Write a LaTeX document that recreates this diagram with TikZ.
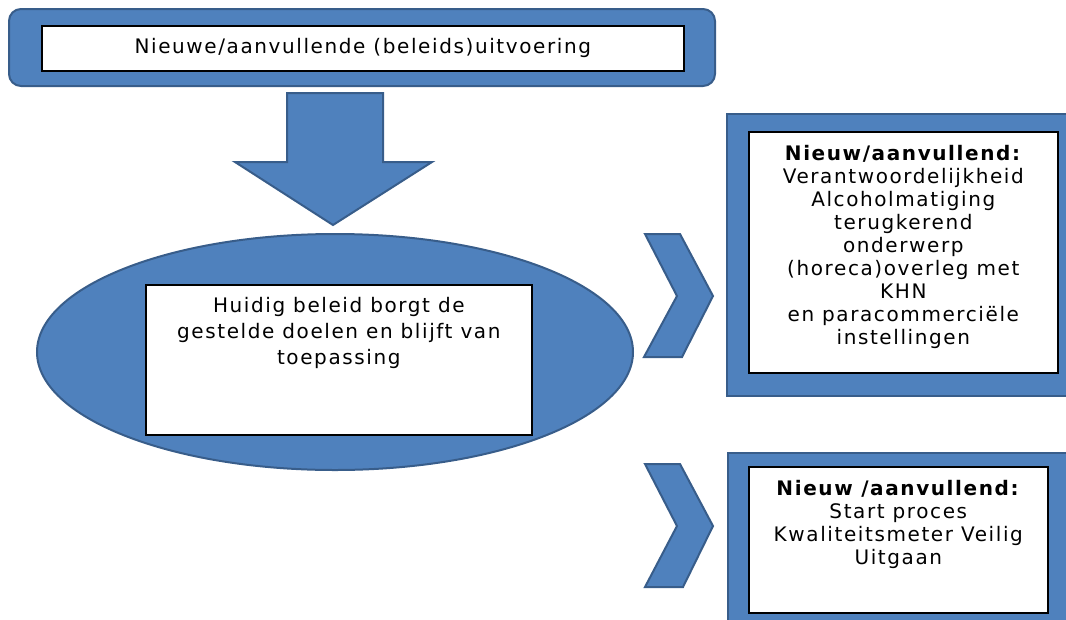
\documentclass[tikz,border=0pt]{standalone}
\usepackage{fontspec}
\setmainfont{DejaVu Sans}[LetterSpace=8]
\usepackage{tikz}
\usetikzlibrary{positioning,shapes.geometric}
\definecolor{shapeblue}{RGB}{79,129,189}
\definecolor{edgeblue}{RGB}{56,93,138}

\begin{document}
\begin{tikzpicture}[
x=1pt,y=-1pt,
font=\fontsize{20}{23}\selectfont,
blueshape/.style={fill=shapeblue,draw=edgeblue,line width=2pt,inner sep=0pt},
whitebox/.style={fill=white,draw=black,line width=1.6pt,inner sep=0pt,anchor=north west},
boxtext/.style={align=center,inner sep=0pt}]
    % Page
    \useasboundingbox (0,0) rectangle (1066,619);
    \clip (0,0) rectangle (1066,619);
    \fill[white] (0,0) rectangle (1066,619);

    % Top banner
    \node[blueshape,rounded corners=12pt,anchor=north west,minimum width=706pt,minimum height=77pt] (banner) at (8,8) {};
    \node[whitebox,minimum width=642pt,minimum height=45pt] (bannerbox) at (41,25) {};
    \node[boxtext] (bannertext) at (bannerbox.center) {Nieuwe/aanvullende (beleids)uitvoering};

    % Down arrow
    \draw[blueshape] (287,93) -- (383,93) -- (383,162) -- (432,162) -- (333,225) -- (235,162) -- (287,162) -- cycle;

    % Ellipse with current policy
    \node[blueshape,ellipse,minimum width=596pt,minimum height=236pt] (current) at (335,352) {};
    \node[whitebox,minimum width=386pt,minimum height=150pt] (currentbox) at (145,284) {};
    \node[boxtext,font=\fontsize{20}{26}\selectfont,below=13pt of currentbox.north] (currenttext)
        {Huidig beleid borgt de\\gestelde doelen en blijft van\\toepassing};

    % Chevrons
    \draw[blueshape] (645,234) -- (680,234) -- (713,296) -- (682,357) -- (644,357) -- (677,296) -- cycle;
    \draw[blueshape] (645,464) -- (680,464) -- (713,526) -- (683,587) -- (645,587) -- (677,526) -- cycle;

    % Right boxes
    \node[blueshape,anchor=north west,minimum width=345pt,minimum height=282pt] (newa) at (726,113) {};
    \node[whitebox,minimum width=309pt,minimum height=241pt] (newabox) at (748,131) {};
    \node[boxtext,below=14pt of newabox.north] (newatext)
        {\textbf{Nieuw/aanvullend:}\\Verantwoordelijkheid\\Alcoholmatiging\\terugkerend\\onderwerp\\(horeca)overleg met\\KHN\\en paracommerciële\\instellingen};

    \node[blueshape,anchor=north west,minimum width=345pt,minimum height=180pt] (newb) at (727,452) {};
    \node[whitebox,minimum width=299pt,minimum height=146pt] (newbbox) at (748,466) {};
    \node[boxtext,below=14pt of newbbox.north] (newbtext)
        {\textbf{Nieuw /aanvullend:}\\Start proces\\Kwaliteitsmeter Veilig\\Uitgaan};
\end{tikzpicture}
\end{document}
